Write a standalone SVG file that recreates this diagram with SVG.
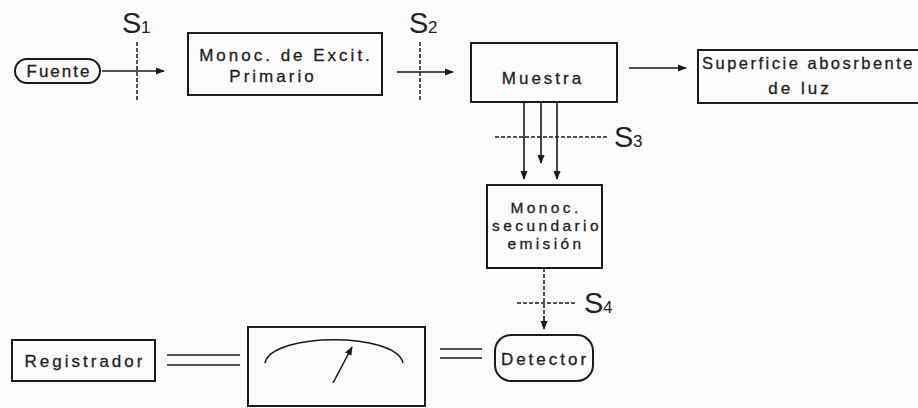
<svg xmlns="http://www.w3.org/2000/svg" width="918" height="408" viewBox="0 0 918 408">
<defs>
<style>
.t{font-family:"Liberation Sans",Arial,sans-serif;font-size:17px;fill:#1e1e1e;stroke:#1e1e1e;stroke-width:0.3;letter-spacing:3px;text-anchor:middle}
.m{font-size:15.5px;letter-spacing:3.4px}
.s{font-family:"Liberation Sans",Arial,sans-serif;font-size:29px;fill:#222}
.sub{font-family:"Liberation Sans",Arial,sans-serif;font-size:17px;fill:#222}
.box{fill:none;stroke:#1a1a1a;stroke-width:2}
.ln{fill:none;stroke:#1a1a1a;stroke-width:1.6}
.dash{fill:none;stroke:#1a1a1a;stroke-width:1.5;stroke-dasharray:4 2}
</style>
<marker id="ah" viewBox="0 0 10 10" refX="9" refY="5" markerWidth="9" markerHeight="9" markerUnits="userSpaceOnUse" orient="auto">
<path d="M0,1 L10,5 L0,9 Z" fill="#1a1a1a"/>
</marker>
</defs>
<rect width="918" height="408" fill="#fbfbfb"/>

<g id="fuente">
<rect class="box" x="15" y="59" width="85" height="24" rx="12" ry="12"/>
<text class="t" x="59" y="77" style="letter-spacing:2px">Fuente</text>
</g>

<g id="monoc-primario">
<rect class="box" x="188" y="33" width="194" height="62"/>
<text class="t" x="286" y="61">Monoc. de Excit.</text>
<text class="t" x="273" y="82">Primario</text>
</g>

<g id="muestra">
<rect class="box" x="471" y="43" width="146" height="59"/>
<text class="t" x="543" y="84">Muestra</text>
</g>

<g id="superficie">
<rect class="box" x="698" y="50" width="230" height="53"/>
<text class="t" x="702" y="69" style="text-anchor:start;font-size:16.5px;letter-spacing:2.5px">Superficie abosrbente</text>
<text class="t" x="800" y="94">de luz</text>
</g>

<g id="monoc-secundario">
<rect class="box" x="487" y="185" width="115" height="83"/>
<text class="t m" x="546" y="213">Monoc.</text>
<text class="t m" x="547" y="231">secundario</text>
<text class="t m" x="546" y="249">emisión</text>
</g>

<g id="registrador">
<rect class="box" x="12" y="340" width="143" height="41"/>
<text class="t" x="85" y="367">Registrador</text>
</g>

<g id="medidor">
<rect class="box" x="248" y="327" width="177" height="79"/>
<path class="ln" d="M265,363 C272,332 396,332 403,363" stroke-width="2"/>
<line class="ln" x1="333" y1="383" x2="352" y2="347" stroke-width="2" marker-end="url(#ah)"/>
</g>

<g id="detector">
<rect class="box" x="495" y="335" width="98" height="46" rx="16" ry="16"/>
<text class="t" x="545" y="365">Detector</text>
</g>

<g id="rendijas">
<line class="dash" x1="137" y1="42" x2="137" y2="101"/>
<text class="s" x="122" y="33">S</text><text class="sub" x="141" y="33">1</text>
<line class="dash" x1="420" y1="42" x2="420" y2="101"/>
<text class="s" x="409" y="33">S</text><text class="sub" x="428" y="33">2</text>
<line class="dash" x1="495" y1="137" x2="609" y2="137"/>
<text class="s" x="614" y="147">S</text><text class="sub" x="633" y="147">3</text>
<line class="dash" x1="517" y1="303" x2="576" y2="303"/>
<text class="s" x="584" y="313">S</text><text class="sub" x="603" y="313">4</text>
</g>

<g id="conectores">
<line class="ln" x1="102" y1="71" x2="164" y2="71" marker-end="url(#ah)"/>
<line class="ln" x1="397" y1="72" x2="453" y2="72" marker-end="url(#ah)"/>
<line class="ln" x1="629" y1="68" x2="686" y2="68" marker-end="url(#ah)"/>
<line class="ln" x1="524" y1="102" x2="524" y2="179" marker-end="url(#ah)"/>
<line class="ln" x1="541" y1="102" x2="541" y2="163" marker-end="url(#ah)"/>
<line class="ln" x1="557" y1="102" x2="557" y2="179" marker-end="url(#ah)"/>
<line class="dash" x1="544" y1="268" x2="544" y2="318"/>
<line class="ln" x1="544" y1="316" x2="544" y2="329" marker-end="url(#ah)"/>
<line class="ln" x1="167" y1="355" x2="240" y2="355"/>
<line class="ln" x1="167" y1="365" x2="240" y2="365"/>
<line class="ln" x1="440" y1="349" x2="482" y2="349"/>
<line class="ln" x1="440" y1="358" x2="482" y2="358"/>
</g>
</svg>
